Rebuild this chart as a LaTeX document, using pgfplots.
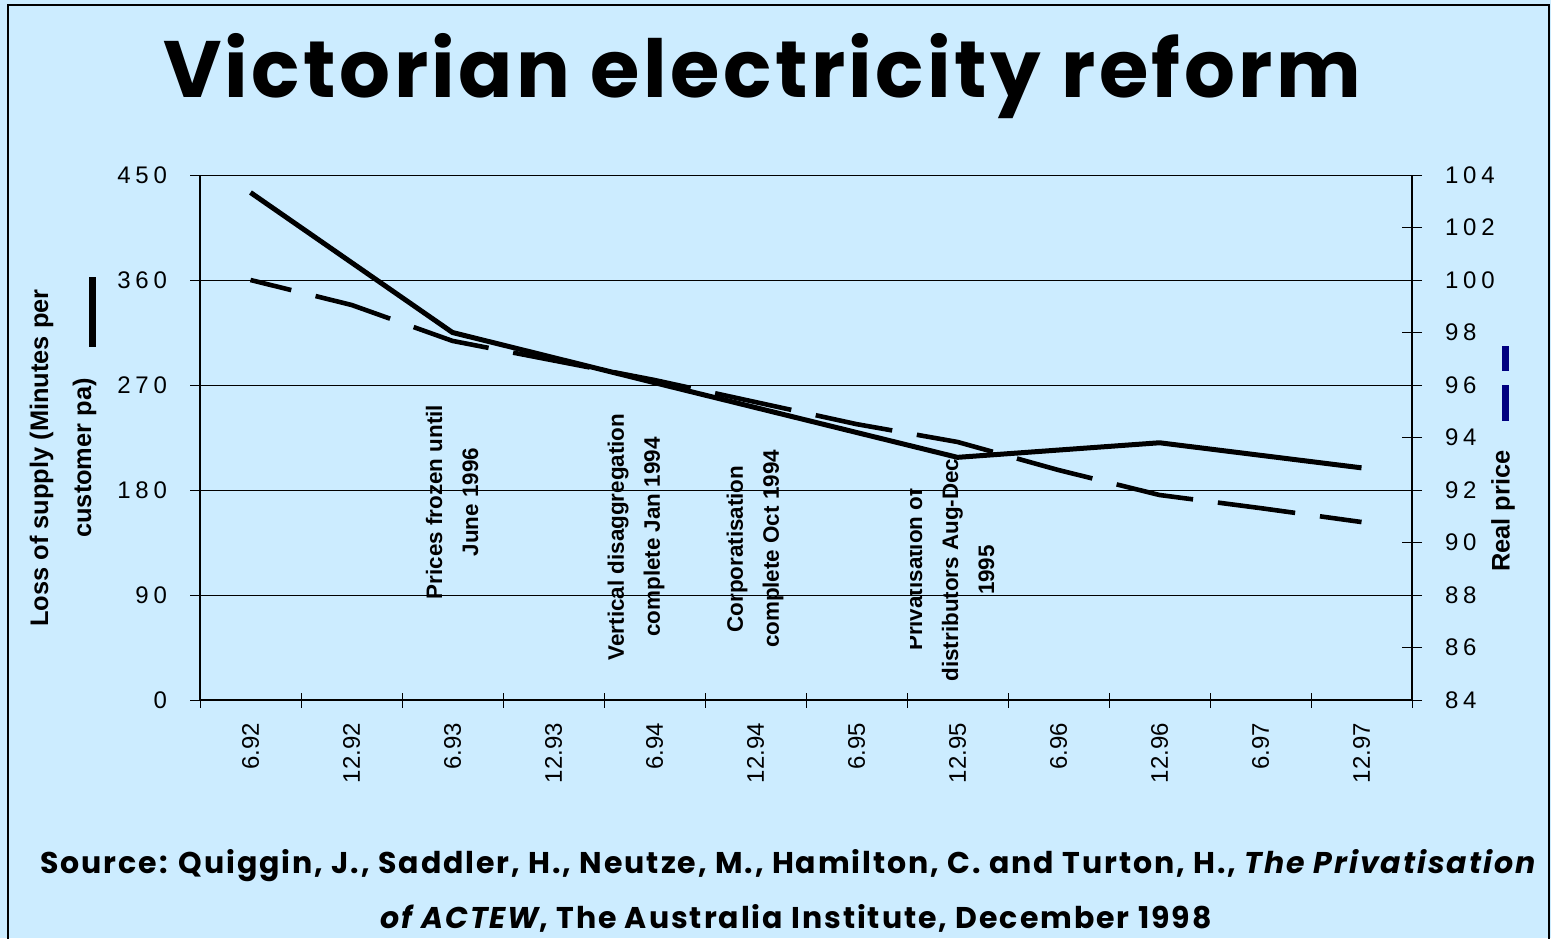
\documentclass[border=0pt]{standalone}
\usepackage{pgfplots}
\pgfplotsset{compat=1.18}
\usepackage{fontspec}
\setmainfont{Liberation Sans}
\newfontfamily\titlefont{Poppins}[LetterSpace=4.3]
\newfontfamily\sourcefont{Poppins}[LetterSpace=6.5]
\newfontfamily\spacedfont{Liberation Sans}[LetterSpace=20]
\definecolor{bg}{RGB}{204,236,255}
\definecolor{navy}{RGB}{0,0,128}
\begin{document}
\begin{tikzpicture}[x=0.5pt,y=-0.5pt]
\useasboundingbox (0,0) rectangle (1551,938);
\fill[bg] (0,0) rectangle (1551,938);
\draw[line width=1.2pt] (8,5) rectangle (1549,990);
\begin{axis}[
  at={(100pt,-350pt)}, anchor=south west, scale only axis,
  width=606pt, height=262.5pt,
  xmin=-0.5, xmax=11.5, ymin=0, ymax=450,
  axis y line*=left, axis x line*=bottom,
  axis line style={line width=0.6pt},
  xtick={0,...,11},
  xticklabels={6.92,12.92,6.93,12.93,6.94,12.94,6.95,12.95,6.96,12.96,6.97,12.97},
  major x tick style={draw=none},
  minor xtick={-0.5,0.5,...,11.5},
  minor tick length=7.5pt,
  major tick length=10pt,
  tick align=center,
  tick style={black, line width=0.5pt},
  xticklabel style={rotate=90, anchor=east, font=\fontsize{12}{14}\selectfont},
  xticklabel shift=3pt,
  ytick={0,90,...,450},
  yticklabel style={font=\spacedfont\fontsize{12}{14}\selectfont},
  yticklabel shift=8pt,
  /pgf/number format/assume math mode=true,
  ymajorgrids, grid style={black, line width=0.5pt},
  clip=false,
]
\addplot[black, line width=2.5pt, line join=round] coordinates {
 (0,435) (2,315) (4,272) (7,208) (9,220.5) (11,199)
};
\end{axis}
\begin{axis}[
  at={(100pt,-350pt)}, anchor=south west, scale only axis,
  width=606pt, height=262.5pt,
  xmin=-0.5, xmax=11.5, ymin=84, ymax=104,
  axis y line*=right, axis x line=none,
  axis line style={line width=0.6pt},
  xtick=\empty,
  ytick={84,86,...,104},
  major tick length=10pt,
  tick align=center,
  tick style={black, line width=0.5pt},
  yticklabel style={font=\spacedfont\fontsize{12}{14}\selectfont},
  yticklabel shift=8pt,
  /pgf/number format/assume math mode=true,
  clip=false,
]
\addplot[black, line width=2.3pt, dash pattern=on 39pt off 12.5pt, dash phase=18pt] coordinates {
 (0,100) (1,99.05) (2,97.68) (4,96.19) (5,95.35) (6,94.51) (7,93.83) (8,92.76) (9,91.81) (10,91.31) (11,90.78)
};
\end{axis}
% title
\node[anchor=base, font=\titlefont\bfseries\fontsize{40}{48}\selectfont] at (762,97) {Victorian electricity reform};
% axis titles
\node[rotate=90, align=center, font=\bfseries\fontsize{12.7}{21.5}\selectfont] at (63,458) {Loss of supply (Minutes per\\customer pa)};
\node[rotate=90, font=\bfseries\fontsize{12.7}{15}\selectfont] at (1503,511) {Real price};
\draw[line width=3.5pt] (92,277) -- (92,347);
\draw[navy, line width=3.5pt] (1505,346) -- (1505,371) (1505,385) -- (1505,421);
% annotations
\begin{scope}[every node/.style={rotate=90, align=center, font=\bfseries\fontsize{11.2}{18}\selectfont}]
\node at (452,502) {Prices frozen until\\June 1996};
\node at (636,537) {Vertical disaggregation\\complete Jan 1994};
\node at (755,549) {Corporatisation\\complete Oct 1994};
\begin{scope}
\clip (910,0) rectangle (1551,938);
\node at (950,570) {Privatisation of\\distributors Aug-Dec\\1995};
\end{scope}
\end{scope}
% source
\node[anchor=base west, font=\sourcefont\bfseries\fontsize{15}{18}\selectfont] at (33,873) {Source: Quiggin, J., Saddler, H., Neutze, M., Hamilton, C. and Turton, H., \textit{The Privatisation}};
\node[anchor=base, font=\sourcefont\bfseries\fontsize{15}{18}\selectfont] at (796,928) {\textit{of ACTEW}, The Australia Institute, December 1998};
\end{tikzpicture}
\end{document}
